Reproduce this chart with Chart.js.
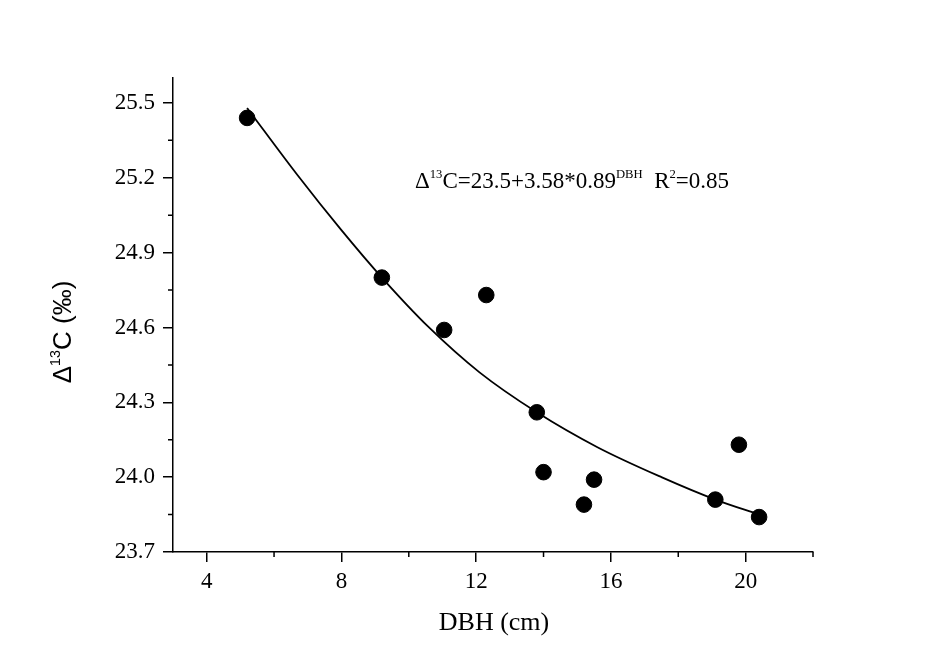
<!DOCTYPE html>
<html>
<head>
<meta charset="utf-8">
<script src="https://cdn.jsdelivr.net/npm/chart.js@4.4.1/dist/chart.umd.min.js"></script>
<style>
  html, body { margin: 0; padding: 0; background: #fff; }
  #wrap { width: 950px; height: 667px; position: relative; }
</style>
</head>
<body>
<div id="wrap"><canvas id="dbhChart"></canvas></div>
<script>
// measured points: DBH (cm) vs delta 13C (per mil)
var dbhValues   = [5.2, 9.2, 11.05, 12.3, 13.8, 14.0, 15.2, 15.5, 19.1, 19.8, 20.4];
var deltaValues = [25.44, 24.80, 24.59, 24.73, 24.26, 24.02, 23.89, 23.99, 23.91, 24.13, 23.84];

// fitted curve
var fitDbh   = [5.2, 6.7, 8.0, 9.2, 10.6, 12.1, 13.8, 15.6, 17.5, 19.1, 20.4];
var fitDelta = [25.48, 25.21, 24.99, 24.80, 24.60, 24.42, 24.26, 24.12, 24.00, 23.91, 23.85];

// tick labels
var xTicks = [4, 8, 12, 16, 20];
var xMinorTicks = [6, 10, 14, 18, 22];
var yTicks = [23.7, 24.0, 24.3, 24.6, 24.9, 25.2, 25.5];
var yMinorTicks = [23.85, 24.15, 24.45, 24.75, 25.05, 25.35];

var serif = '"Liberation Serif", "Times New Roman", serif';
var sans = '"Liberation Sans", Arial, sans-serif';

function toPoints(xs, ys) {
    return xs.map(function(x, i) { return { x: x, y: ys[i] }; });
}

// draws a run of text pieces, some of them raised as superscripts
function drawRuns(ctx, runs, x, y, size, family) {
    runs.forEach(function(r) {
        var s = r.sup ? size * 0.55 : size;
        ctx.font = s + 'px ' + family;
        ctx.fillText(r.t, x, r.sup ? y - size * 0.42 : y);
        x += ctx.measureText(r.t).width;
    });
}

function runsWidth(ctx, runs, size, family) {
    var w = 0;
    runs.forEach(function(r) {
        ctx.font = (r.sup ? size * 0.55 : size) + 'px ' + family;
        w += ctx.measureText(r.t).width;
    });
    return w;
}

var extrasPlugin = {
    id: 'extras',
    afterDraw: function(chart) {
        var ctx = chart.ctx;
        var xs = chart.scales.x, ys = chart.scales.y;
        var area = chart.chartArea;
        ctx.save();
        ctx.strokeStyle = '#000';
        ctx.lineWidth = 1.5;
        // minor ticks
        ctx.beginPath();
        xMinorTicks.forEach(function(v) {
            var px = xs.getPixelForValue(v);
            ctx.moveTo(px, area.bottom);
            ctx.lineTo(px, area.bottom + 5);
        });
        yMinorTicks.forEach(function(v) {
            var py = ys.getPixelForValue(v);
            ctx.moveTo(area.left, py);
            ctx.lineTo(area.left - 5, py);
        });
        ctx.stroke();

        ctx.fillStyle = '#000';
        ctx.textBaseline = 'alphabetic';
        ctx.textAlign = 'left';

        // equation
        var eq = [
            { t: 'Δ' }, { t: '13', sup: true }, { t: 'C=23.5+3.58*0.89' },
            { t: 'DBH', sup: true }, { t: '  R' }, { t: '2', sup: true }, { t: '=0.85' }
        ];
        drawRuns(ctx, eq, area.left + 242, area.top + 110, 23, serif);

        // x title
        ctx.font = '26px ' + serif;
        ctx.textAlign = 'center';
        ctx.fillText('DBH (cm)', (area.left + area.right) / 2 + 1, area.bottom + 78);

        // y title, rotated
        var yt = [{ t: 'Δ' }, { t: '13', sup: true }, { t: 'C (‰)' }];
        ctx.textAlign = 'left';
        ctx.translate(area.left - 102, (area.top + area.bottom) / 2 + 17);
        ctx.rotate(-Math.PI / 2);
        var w = runsWidth(ctx, yt, 26, sans);
        drawRuns(ctx, yt, -w / 2, 0, 26, sans);
        ctx.restore();
    }
};

window.addEventListener('load', function() {
    var ctx = document.getElementById('dbhChart');
    new Chart(ctx, {
        type: 'scatter',
        data: {
            datasets: [{
                label: 'Measured',
                data: toPoints(dbhValues, deltaValues),
                backgroundColor: '#000',
                borderColor: '#000',
                pointRadius: 7.8,
                pointHoverRadius: 7.8,
                order: 1
            }, {
                label: 'Fit',
                data: toPoints(fitDbh, fitDelta),
                showLine: true,
                borderColor: '#000',
                borderWidth: 1.8,
                pointRadius: 0,
                cubicInterpolationMode: 'monotone',
                order: 2
            }]
        },
        options: {
            responsive: true,
            maintainAspectRatio: false,
            animation: false,
            events: [],
            layout: { padding: { top: 78, right: 137, left: 0, bottom: 0 } },
            plugins: { legend: { display: false }, tooltip: { enabled: false } },
            scales: {
                x: {
                    type: 'linear',
                    min: 3, max: 22,
                    afterBuildTicks: function(s) { s.ticks = xTicks.map(function(v) { return { value: v }; }); },
                    afterFit: function(s) { s.height = 115; },
                    grid: { display: true, drawOnChartArea: false, drawTicks: true, tickLength: 10, color: '#000', lineWidth: 1.5 },
                    border: { display: true, color: '#000', width: 1.5 },
                    ticks: { color: '#000', padding: 6, font: { family: serif, size: 23 }, maxRotation: 0 }
                },
                y: {
                    type: 'linear',
                    min: 23.7, max: 25.6,
                    afterBuildTicks: function(s) { s.ticks = yTicks.map(function(v) { return { value: v }; }); },
                    afterFit: function(s) { s.width = 173; },
                    grid: { display: true, drawOnChartArea: false, drawTicks: true, tickLength: 10, color: '#000', lineWidth: 1.5 },
                    border: { display: true, color: '#000', width: 1.5 },
                    ticks: {
                        color: '#000', padding: 8, font: { family: serif, size: 23 },
                        callback: function(v) { return Number(v).toFixed(1); }
                    }
                }
            }
        },
        plugins: [extrasPlugin]
    });
});
</script>
</body>
</html>
